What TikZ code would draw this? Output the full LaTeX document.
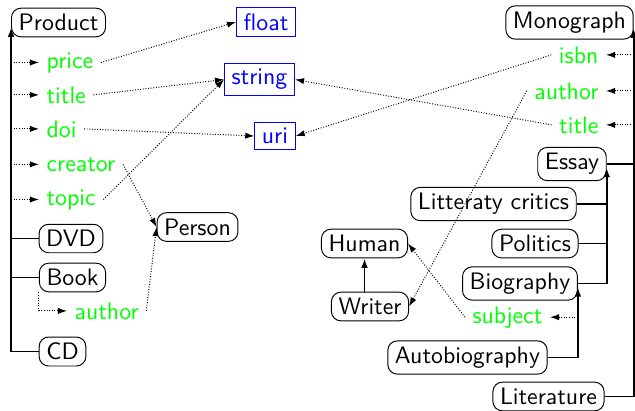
\documentclass[tikz,border=0pt]{standalone}
\usepackage{fontspec}
\usetikzlibrary{arrows.meta}
\begin{document}
\begin{tikzpicture}[x=0.42pt, y=-0.42pt, font=\sffamily,
  cls/.style={draw, rounded corners=4pt, inner xsep=3pt, inner ysep=2.5pt},
  typ/.style={draw=blue, text=blue, inner xsep=3pt, inner ysep=2.5pt},
  attr/.style={text=green, inner xsep=3pt, inner ysep=2.5pt},
  isa/.style={thick, -{Latex[length=4pt,width=2.8pt]}},
  link/.style={thick},
  ref/.style={dash pattern=on 0.4pt off 0.7pt, -{Latex[length=3.8pt,width=2.6pt]}}]
\useasboundingbox (0,0) rectangle (635,410);

% product side
\node[cls] (product) at (58.5,22.5) {Product};
\node[typ] (float) at (266,22) {float};
\node[typ] (string) at (259.5,79.5) {string};
\node[typ] (uri) at (275,136) {uri};
\node[attr, anchor=base west] (price) at (39,68) {price};
\node[attr, anchor=base west] (title) at (39,103) {title};
\node[attr, anchor=base west] (doi) at (39,137) {doi};
\node[attr, anchor=base west] (creator) at (39,171) {creator};
\node[attr, anchor=base west] (topic) at (39,205) {topic};
\node[cls] (dvd) at (71,238.5) {DVD};
\node[cls] (book) at (72.5,277.5) {Book};
\node[attr, anchor=base west] (bauthor) at (67,319) {author};
\node[cls] (cd) at (62.5,351.5) {CD};
\node[cls] (person) at (197.5,227) {Person};

% monograph side
\node[cls] (mono) at (569.5,22.5) {Monograph};
\node[attr, anchor=base east] (isbn) at (606,63) {isbn};
\node[attr, anchor=base east] (mauthor) at (606,99) {author};
\node[attr, anchor=base east] (mtitle) at (606,133) {title};
\node[cls] (essay) at (572,164) {Essay};
\node[cls] (critics) at (493.5,204) {Litteraty critics};
\node[cls] (politics) at (535,243.5) {Politics};
\node[cls] (bio) at (520,283.5) {Biography};
\node[attr, anchor=base east] (subject) at (550,323) {subject};
\node[cls] (autobio) at (467.5,357.5) {Autobiography};
\node[cls] (lit) at (548.5,396.5) {Literature};
\node[cls] (human) at (364.5,243.5) {Human};
\node[cls] (writer) at (370,306.5) {Writer};

% product hierarchy
\draw[isa] (cd.west) -| ([yshift=-2pt]product.west);
\draw[link] (dvd.west) -- (dvd.west -| product.west);
\draw[link] (book.west) -- (book.west -| product.west);
\foreach \a in {price,title,doi,creator,topic}
  \draw[ref] (\a.west -| product.west) -- (\a.west);
\draw[ref] (book.south west) |- (bauthor.west);
\draw[ref] (price.east) -- (float.west);
\draw[ref] (title.east) -- (string.west);
\draw[ref] (doi.east) -- (uri.west);
\draw[ref] (topic.east) -- (string.west);
\draw[ref] (creator.east) -- (person.west);
\draw[ref] (bauthor.east) -- (person.west);

% monograph hierarchy
\draw[isa] (lit.east) -| ([yshift=-2.5pt]mono.east);
\draw[link] (essay.east) -- (essay.east -| mono.east);
\foreach \a in {isbn,mauthor,mtitle}
  \draw[ref] (\a.east -| mono.east) -- (\a.east);
\draw[isa] (bio.east) -| ([yshift=-1.5pt]essay.east);
\draw[link] (critics.east) -- (critics.east -| essay.east);
\draw[link] (politics.east) -- (politics.east -| essay.east);
\draw[isa] (autobio.east) -| ([yshift=-1.5pt]bio.east);
\draw[ref] (subject.east -| bio.east) -- (subject.east);
\draw[isa] (human.south |- writer.north) -- (human.south);
\draw[ref] (subject.west) -- (human.east);
\draw[ref] (mauthor.west) -- (writer.east);
\draw[ref] (isbn.west) -- (uri.east);
\draw[ref] (mtitle.west) -- (string.east);
\end{tikzpicture}
\end{document}
